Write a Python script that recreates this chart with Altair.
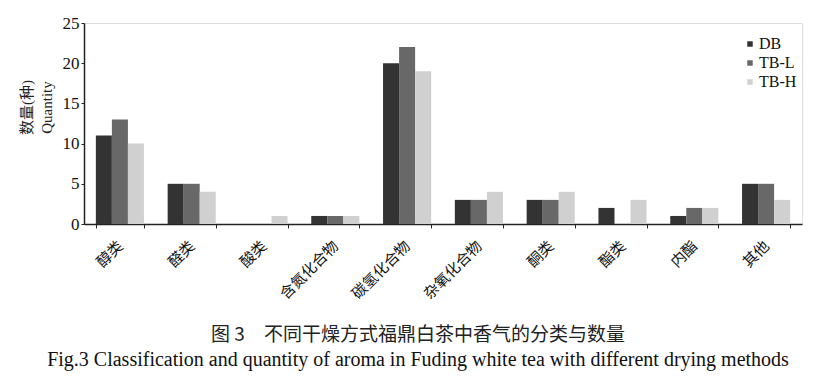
import altair as alt
import pandas as pd

categories = ["醇类", "醛类", "酸类", "含氮化合物", "碳氢化合物", "杂氧化合物", "酮类", "酯类", "内酯", "其他"]
series = ["DB", "TB-L", "TB-H"]
db = [11, 5, 0, 1, 20, 3, 3, 2, 1, 5]
tbl = [13, 5, 0, 1, 22, 3, 3, 0, 2, 5]
tbh = [10, 4, 1, 1, 19, 4, 4, 3, 2, 3]
colors = ["#333333", "#686868", "#d0d0d0"]

rows = []
for s, vals in zip(series, [db, tbl, tbh]):
    for c, v in zip(categories, vals):
        rows.append({"category": c, "series": s, "value": v})
df = pd.DataFrame(rows)

font = "Liberation Serif, Noto Sans CJK SC"
cjk = "Noto Sans CJK SC"

chart = alt.Chart(df).mark_bar().encode(
    x=alt.X("category:N", sort=categories, title=None,
            scale=alt.Scale(paddingInner=0.33, paddingOuter=0.165),
            axis=alt.Axis(labelAngle=-45, labelAlign="right", labelBaseline="middle",
                          labelFont=cjk, labelFontSize=15, labelColor="#111",
                          labelPadding=15, tickBand="extent", tickSize=4,
                          domainColor="#222", tickColor="#222", domainWidth=1.5)),
    xOffset=alt.XOffset("series:N", sort=series, scale=alt.Scale(paddingInner=0, paddingOuter=0)),
    y=alt.Y("value:Q", scale=alt.Scale(domain=[0, 25]),
            title=["数量(种)", "Quantity"],
            axis=alt.Axis(values=[0, 5, 10, 15, 20, 25], grid=False, tickSize=3,
                          labelFont=font, labelFontSize=17, labelColor="#111",
                          labelPadding=2, domainColor="#222", tickColor="#222", domainWidth=1.5,
                          titleFont=font, titleFontSize=15, titleFontWeight="normal",
                          titleColor="#222", titlePadding=8, titleLineHeight=20, titleY=84)),
    color=alt.Color("series:N", sort=series,
                    scale=alt.Scale(domain=series, range=colors),
                    legend=alt.Legend(title=None, orient="none", legendX=658, legendY=13,
                                      symbolType="square", symbolSize=30, symbolStrokeWidth=0,
                                      labelFont=font, labelFontSize=16, labelColor="#111",
                                      rowPadding=3, labelOffset=1)),
).properties(
    width=718, height=201,
    autosize=alt.AutoSizeParams(type="none"),
    padding={"left": 76, "top": 15, "right": 7, "bottom": 164},
    title=alt.TitleParams(
        text="图 3\u3000不同干燥方式福鼎白茶中香气的分类与数量",
        subtitle="Fig.3 Classification and quantity of aroma in Fuding white tea with different drying methods",
        orient="bottom", anchor="middle", frame="group", offset=24, dx=-25,
        font=cjk, fontSize=19, fontWeight="normal", color="#222",
        subtitleFont=font, subtitleFontSize=20, subtitleColor="#111", subtitlePadding=5,
    ),
).configure_view(stroke=None).configure(background="white")

chart.save("out.html", embed_options={"renderer": "svg", "actions": False})
